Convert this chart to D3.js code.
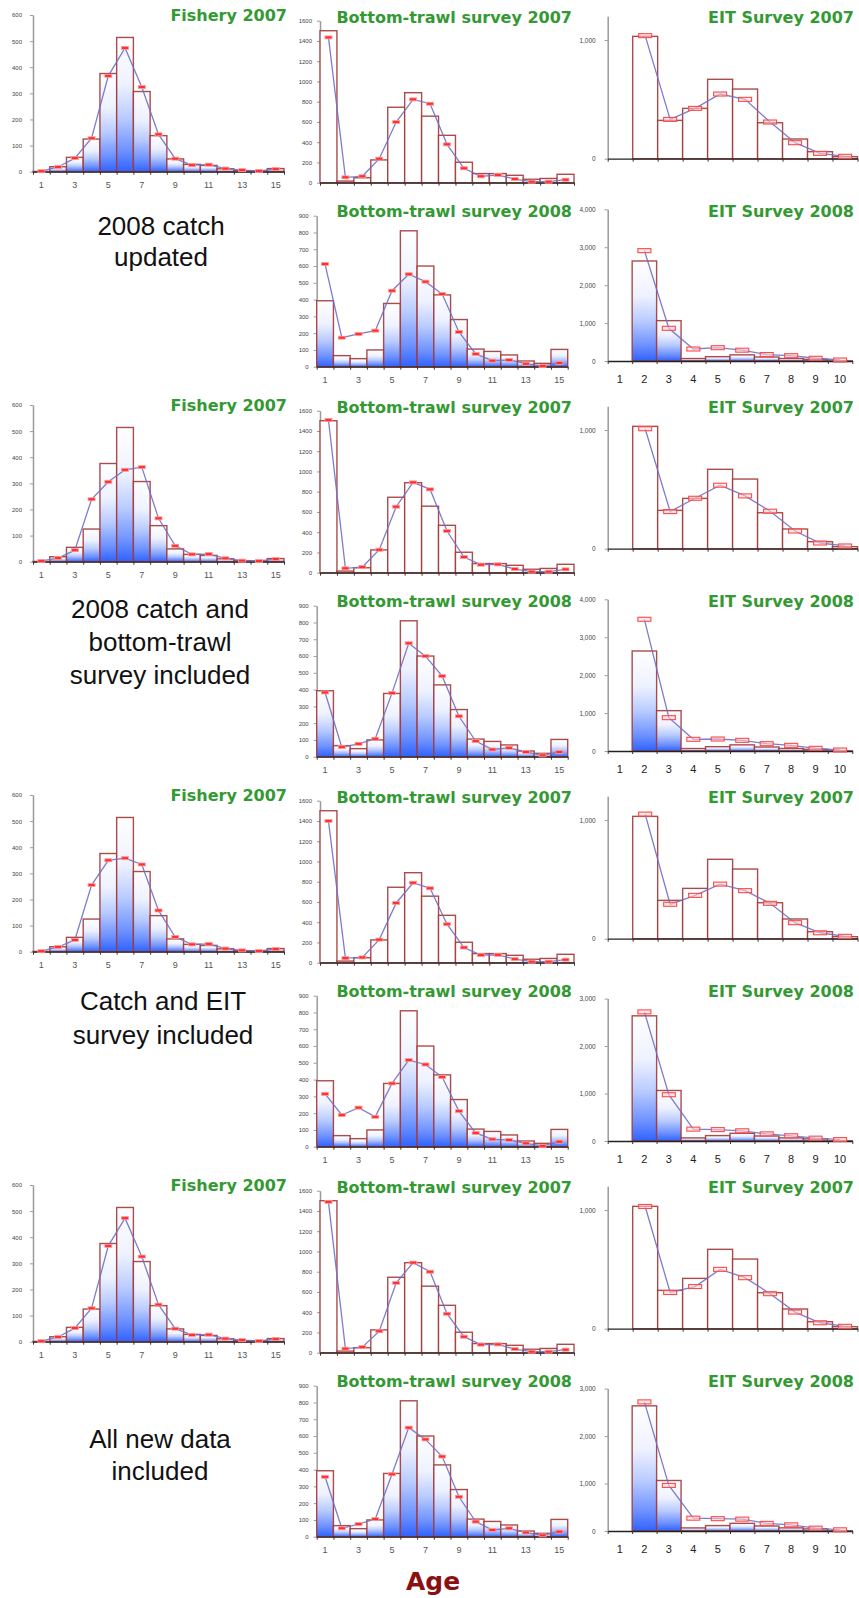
<!DOCTYPE html>
<html>
<head>
<meta charset="utf-8">
<script src="https://cdn.jsdelivr.net/npm/d3@7"></script>
<style>
  html, body { margin: 0; padding: 0; background: #fff; }
  svg { display: block; }
</style>
</head>
<body>
<svg id="chart" width="859" height="1598"></svg>
<script>
// Age classes
const ages15 = d3.range(1, 16);
const ages10 = d3.range(1, 11);
const eitAges = d3.range(2, 11);

// Observed age compositions (same in every model run)
const fisheryObs = [1, 19, 55, 125, 376, 514, 307, 138, 49, 28, 24, 11, 4, 3, 12];
const bt07Obs = [1501, 16, 49, 225, 745, 889, 657, 468, 202, 90, 90, 73, 34, 42, 83];
const eit07Obs = [1031, 323, 424, 669, 587, 303, 166, 59, 17];
const bt08Obs = [393, 66, 48, 100, 377, 810, 600, 428, 281, 105, 91, 70, 34, 20, 103];
const eit08Obs = [2637, 1064, 65, 114, 162, 105, 66, 44, 4];

// Model fits, one row per run
const fisheryFit = [
  [2, 18, 52, 128, 367, 474, 324, 143, 50, 25, 27, 12, 6, 3, 10],
  [3, 14, 44, 239, 306, 352, 362, 166, 61, 28, 29, 13, 4, 3, 10],
  [2, 18, 45, 255, 350, 358, 334, 158, 56, 28, 30, 12, 5, 3, 10],
  [2, 18, 52, 128, 367, 473, 326, 142, 50, 26, 27, 12, 6, 3, 10]
];
const bt07Fit = [
  [1435, 53, 63, 237, 599, 823, 780, 379, 142, 63, 76, 36, 10, 10, 30],
  [1508, 43, 56, 227, 652, 892, 823, 412, 155, 79, 82, 36, 10, 10, 33],
  [1400, 45, 52, 228, 590, 790, 735, 380, 150, 75, 78, 35, 10, 10, 30],
  [1490, 40, 55, 212, 690, 890, 800, 385, 158, 80, 82, 35, 10, 10, 30]
];
const eit07Fit = [
  [1037, 331, 424, 545, 500, 309, 135, 45, 20],
  [1011, 313, 425, 535, 445, 316, 149, 48, 23],
  [1050, 290, 365, 460, 405, 298, 135, 50, 20],
  [1030, 305, 355, 500, 430, 295, 140, 50, 20]
];
const bt08Fit = [
  [612, 173, 195, 215, 453, 551, 507, 433, 207, 76, 36, 40, 18, 4, 22],
  [383, 57, 77, 107, 379, 676, 599, 480, 241, 93, 43, 53, 28, 8, 28],
  [315, 189, 233, 178, 377, 516, 490, 415, 212, 82, 44, 40, 20, 5, 30],
  [357, 50, 75, 105, 372, 650, 580, 478, 238, 90, 40, 50, 25, 8, 30]
];
const eit08Fit = [
  [2910, 862, 316, 351, 285, 170, 140, 72, 26],
  [3473, 879, 308, 316, 281, 193, 149, 70, 26],
  [2720, 975, 250, 240, 215, 150, 110, 60, 30],
  [2720, 960, 270, 260, 250, 160, 130, 60, 25]
];

// Run descriptions and axis maxima
const runLabels = [
  ["2008 catch", "updated"],
  ["2008 catch and", "bottom-trawl", "survey included"],
  ["Catch and EIT", "survey included"],
  ["All new data", "included"]
];
const eit08Max = [4000, 4000, 3000, 3000];
const oddAges = [1, 3, 5, 7, 9, 11, 13, 15];

const svg = d3.select("#chart");
const runHeight = 390;

const defs = svg.append("defs");
const grad = defs.append("linearGradient")
  .attr("id", "barFill").attr("x1", 0).attr("y1", 0).attr("x2", 0).attr("y2", 1);
[[0, "#ffffff"], [0.35, "#eef2ff"], [0.6, "#b9cbff"], [0.85, "#6b8fff"], [1, "#2f62ff"]]
  .forEach(([o, c]) => grad.append("stop").attr("offset", o).attr("stop-color", c));

function drawPanel(g, p) {
  const x = d3.scaleBand().domain(p.domainAges).range(p.xr).padding(0);
  const y = d3.scaleLinear().domain([0, p.max]).range(p.yr);
  const bw = x.bandwidth();

  // y axis
  const ya = g.append("g").attr("transform", `translate(${p.xr[0]},0)`)
    .call(d3.axisLeft(y).tickValues(p.yTicks).tickSize(3).tickSizeOuter(0)
      .tickPadding(p.yGap - 3).tickFormat(p.fmt));
  ya.select(".domain").attr("stroke", "#9a9a9a").attr("stroke-width", 1.5);
  ya.selectAll(".tick line").attr("stroke", "#9a9a9a");
  ya.selectAll(".tick text").attr("fill", "#444").style("font-family", "Liberation Sans, Arial, sans-serif")
    .style("font-size", p.yFont + "px");

  // observed bars
  g.append("g").selectAll("rect").data(p.obsAges.map((a, i) => ({ age: a, v: p.obs[i] })))
    .join("rect")
    .attr("x", d => x(d.age))
    .attr("y", d => y(d.v))
    .attr("width", bw)
    .attr("height", d => y(0) - y(d.v))
    .attr("fill", p.filled ? "url(#barFill)" : "#ffffff")
    .attr("stroke", "#a13838")
    .attr("stroke-opacity", 0.9)
    .attr("stroke-width", 1.4);

  // x axis with ticks at the class boundaries
  const edge = d3.scaleLinear().domain([0, p.domainAges.length]).range(p.xr);
  const xa = g.append("g").attr("transform", `translate(0,${y(0)})`)
    .call(d3.axisBottom(edge).tickValues(d3.range(0, p.domainAges.length + 1))
      .tickSize(3).tickSizeOuter(0).tickFormat(""));
  xa.select(".domain").attr("stroke", "#222").attr("stroke-width", 1.3);
  xa.selectAll(".tick line").attr("stroke", "#333");

  if (p.xLabels) {
    const xl = g.append("g").attr("transform", `translate(0,${y(0)})`)
      .call(d3.axisBottom(x).tickValues(p.xLabels).tickSize(0).tickPadding(p.xPad));
    xl.select(".domain").remove();
    xl.selectAll(".tick text").attr("fill", p.xColor)
      .style("font-family", "Liberation Sans, Arial, sans-serif").style("font-size", p.xFont + "px");
  }

  // fitted values
  const fitPts = p.obsAges.map((a, i) => ({ age: a, v: p.fit[i] }));
  const line = d3.line().x(d => x(d.age) + bw / 2).y(d => y(d.v));
  g.append("path").datum(fitPts).attr("d", line)
    .attr("fill", "none").attr("stroke", "#6f6fc9").attr("stroke-width", 1.3).attr("stroke-opacity", 0.9);

  const mw = p.eit ? 13 : 7, mh = p.eit ? 4 : 3;
  g.append("g").selectAll("rect").data(fitPts).join("rect")
    .attr("x", d => x(d.age) + bw / 2 - mw / 2)
    .attr("y", d => y(d.v) - mh / 2)
    .attr("width", mw).attr("height", mh)
    .attr("fill", p.eit ? "rgba(255,215,215,0.55)" : "#ff3030")
    .attr("stroke", p.eit ? "#ff4a4a" : "#ff9c9c")
    .attr("stroke-width", p.eit ? 1.1 : 0.8);

  // title
  g.append("text").attr("x", p.titleX).attr("y", p.titleY)
    .attr("text-anchor", "end")
    .attr("fill", "#339933")
    .style("font-family", "DejaVu Sans, Verdana, sans-serif")
    .style("font-weight", "bold").style("font-size", "16px")
    .text(p.title);
}

const fmtPlain = d3.format("d");
const fmtComma = d3.format(",");

runLabels.forEach((lines, r) => {
  const g = svg.append("g").attr("transform", `translate(0,${r * runHeight})`);

  drawPanel(g, {
    title: "Fishery 2007", domainAges: ages15, obsAges: ages15, obs: fisheryObs, fit: fisheryFit[r],
    xr: [33, 284], yr: [171.7, 15], max: 600, yTicks: d3.range(0, 601, 100), fmt: fmtPlain,
    yGap: 11, yFont: 6, filled: true, eit: false,
    xLabels: oddAges, xPad: 10, xFont: 9, xColor: "#555",
    titleX: 287, titleY: 21
  });
  drawPanel(g, {
    title: "Bottom-trawl survey 2007", domainAges: ages15, obsAges: ages15, obs: bt07Obs, fit: bt07Fit[r],
    xr: [320, 574], yr: [182.7, 20.7], max: 1600, yTicks: d3.range(0, 1601, 200), fmt: fmtPlain,
    yGap: 8, yFont: 6, filled: false, eit: false,
    titleX: 572, titleY: 22.5
  });
  drawPanel(g, {
    title: "EIT Survey 2007", domainAges: ages10, obsAges: eitAges, obs: eit07Obs, fit: eit07Fit[r],
    xr: [607.7, 857.5], yr: [158.7, 16.3], max: 1200, yTicks: [0, 1000], fmt: fmtComma,
    yGap: 12, yFont: 6.5, filled: false, eit: true,
    titleX: 854, titleY: 22.5
  });
  drawPanel(g, {
    title: "Bottom-trawl survey 2008", domainAges: ages15, obsAges: ages15, obs: bt08Obs, fit: bt08Fit[r],
    xr: [316.7, 567.7], yr: [366.7, 215.7], max: 900, yTicks: d3.range(0, 901, 100), fmt: fmtPlain,
    yGap: 8, yFont: 6, filled: true, eit: false,
    xLabels: oddAges, xPad: 10, xFont: 9, xColor: "#555",
    titleX: 572, titleY: 216.7
  });
  const top08 = eit08Max[r] === 4000 ? 209.3 : 218.6;
  drawPanel(g, {
    title: "EIT Survey 2008", domainAges: ages10, obsAges: eitAges, obs: eit08Obs, fit: eit08Fit[r],
    xr: [607.7, 852.3], yr: [361, top08], max: eit08Max[r], yTicks: d3.range(0, eit08Max[r] + 1, 1000), fmt: fmtComma,
    yGap: 12, yFont: 6.5, filled: true, eit: true,
    xLabels: ages10, xPad: 14, xFont: 11, xColor: "#222",
    titleX: 854, titleY: 216.7
  });
});

// Run descriptions on the left
const runText = [
  { x: 161, ys: [235, 266] },
  { x: 160, ys: [618, 651, 684] },
  { x: 163, ys: [1010, 1044] },
  { x: 160, ys: [1448, 1480] }
];
runLabels.forEach((lines, r) => {
  lines.forEach((t, i) => {
    svg.append("text")
      .attr("x", runText[r].x).attr("y", runText[r].ys[i])
      .attr("text-anchor", "middle")
      .attr("fill", "#111")
      .style("font-family", "Liberation Sans, Arial, sans-serif")
      .style("font-size", "26px")
      .text(t);
  });
});

// Shared x-axis title
svg.append("text")
  .attr("x", 433).attr("y", 1590)
  .attr("text-anchor", "middle")
  .attr("fill", "#8b1010")
  .style("font-family", "DejaVu Sans, Verdana, sans-serif")
  .style("font-weight", "bold").style("font-size", "25px")
  .text("Age");
</script>
</body>
</html>
